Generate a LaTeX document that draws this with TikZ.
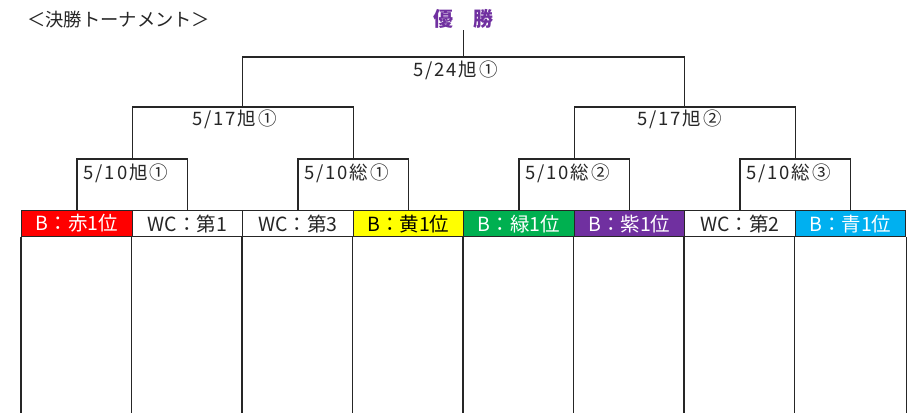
\documentclass[tikz,border=0pt]{standalone}
\usepackage{fontspec}
\usetikzlibrary{calc}
\setmainfont{Noto Sans CJK JP}
\newfontfamily\jpsp[LetterSpace=10]{Noto Sans CJK JP}
\definecolor{cred}{HTML}{FF0000}
\definecolor{cyel}{HTML}{FFFF00}
\definecolor{cgrn}{HTML}{00B050}
\definecolor{cpur}{HTML}{7030A0}
\definecolor{cblu}{HTML}{00B0F0}
\definecolor{linec}{HTML}{262626}
\definecolor{textc}{HTML}{262626}
\begin{document}
\begin{tikzpicture}[x=1pt,y=-1pt,
  cell/.style={draw=linec,line width=1.3pt,minimum width=110.5pt,minimum height=26pt,inner sep=0pt,anchor=north west,font=\fontsize{19.5pt}{21pt}\selectfont},
  wc/.style={cell,fill=white,text=textc},
  lbl/.style={inner sep=0pt,anchor=west,text=textc,font=\jpsp\fontsize{18.5pt}{20pt}\selectfont},
  br/.style={draw=linec,line width=1.3pt}]
\useasboundingbox (0,0) rectangle (910,413);
\fill[white] (0,0) rectangle (910,413);
% title
\node[inner sep=0pt,anchor=west,text=textc,font=\fontsize{18.3pt}{20pt}\selectfont] (title) at (27,20) {＜決勝トーナメント＞};
\node[inner sep=0pt,text=cpur,font=\bfseries\fontsize{20pt}{22pt}\selectfont] (win) at (463.5,19) {優\hspace{1em}勝};
% header cells
\node[cell,fill=cred,text=white] (c1) at (21,210) {B：赤1位};
\node[wc] (c2) at (131.5,210) {WC：第1};
\node[wc] (c3) at (242,210) {WC：第3};
\node[cell,fill=cyel,text=black] (c4) at (352.5,210) {B：黄1位};
\node[cell,fill=cgrn,text=white] (c5) at (463,210) {B：緑1位};
\node[cell,fill=cpur,text=white] (c6) at (573.5,210) {B：紫1位};
\node[wc] (c7) at (684,210) {WC：第2};
\node[cell,fill=cblu,text=white] (c8) at (794.5,210) {B：青1位};
% column bodies
\foreach \i in {1,...,8} {
  \draw[br] (c\i.south west) -- (c\i.south west |- 0,413);
}
\draw[br] (c8.south east) -- (c8.south east |- 0,413);
% round 1
\coordinate (m1) at ($(c1.north)!0.5!(c2.north)$);
\coordinate (m2) at ($(c3.north)!0.5!(c4.north)$);
\coordinate (m3) at ($(c5.north)!0.5!(c6.north)$);
\coordinate (m4) at ($(c7.north)!0.5!(c8.north)$);
\draw[br] (c1.north) -- (c1.north |- 0,159) -- (c2.north |- 0,159) -- (c2.north);
\draw[br] (c3.north) -- (c3.north |- 0,159) -- (c4.north |- 0,159) -- (c4.north);
\draw[br] (c5.north) -- (c5.north |- 0,159) -- (c6.north |- 0,159) -- (c6.north);
\draw[br] (c7.north) -- (c7.north |- 0,159) -- (c8.north |- 0,159) -- (c8.north);
\coordinate (t1) at (m1 |- 0,159);
\coordinate (t2) at (m2 |- 0,159);
\coordinate (t3) at (m3 |- 0,159);
\coordinate (t4) at (m4 |- 0,159);
\node[lbl] (l1) at (83.5,173) {5/10旭①};
\node[lbl] (l2) at (304,173) {5/10総①};
\node[lbl] (l3) at (525,173) {5/10総②};
\node[lbl] (l4) at (746,173) {5/10総③};
% round 2
\draw[br] (t1) -- (t1 |- 0,107) -- (t2 |- 0,107) -- (t2);
\draw[br] (t3) -- (t3 |- 0,107) -- (t4 |- 0,107) -- (t4);
\coordinate (s1) at ($(t1 |- 0,107)!0.5!(t2 |- 0,107)$);
\coordinate (s2) at ($(t3 |- 0,107)!0.5!(t4 |- 0,107)$);
\node[lbl] (l5) at (192,119) {5/17旭①};
\node[lbl] (l6) at (637,119) {5/17旭②};
% final
\draw[br] (s1) -- (s1 |- 0,57) -- (s2 |- 0,57) -- (s2);
\coordinate (f) at ($(s1 |- 0,57)!0.5!(s2 |- 0,57)$);
\node[lbl] (l7) at (413,70) {5/24旭①};
\draw[br] (f) -- (f |- 0,30);
\end{tikzpicture}
\end{document}
